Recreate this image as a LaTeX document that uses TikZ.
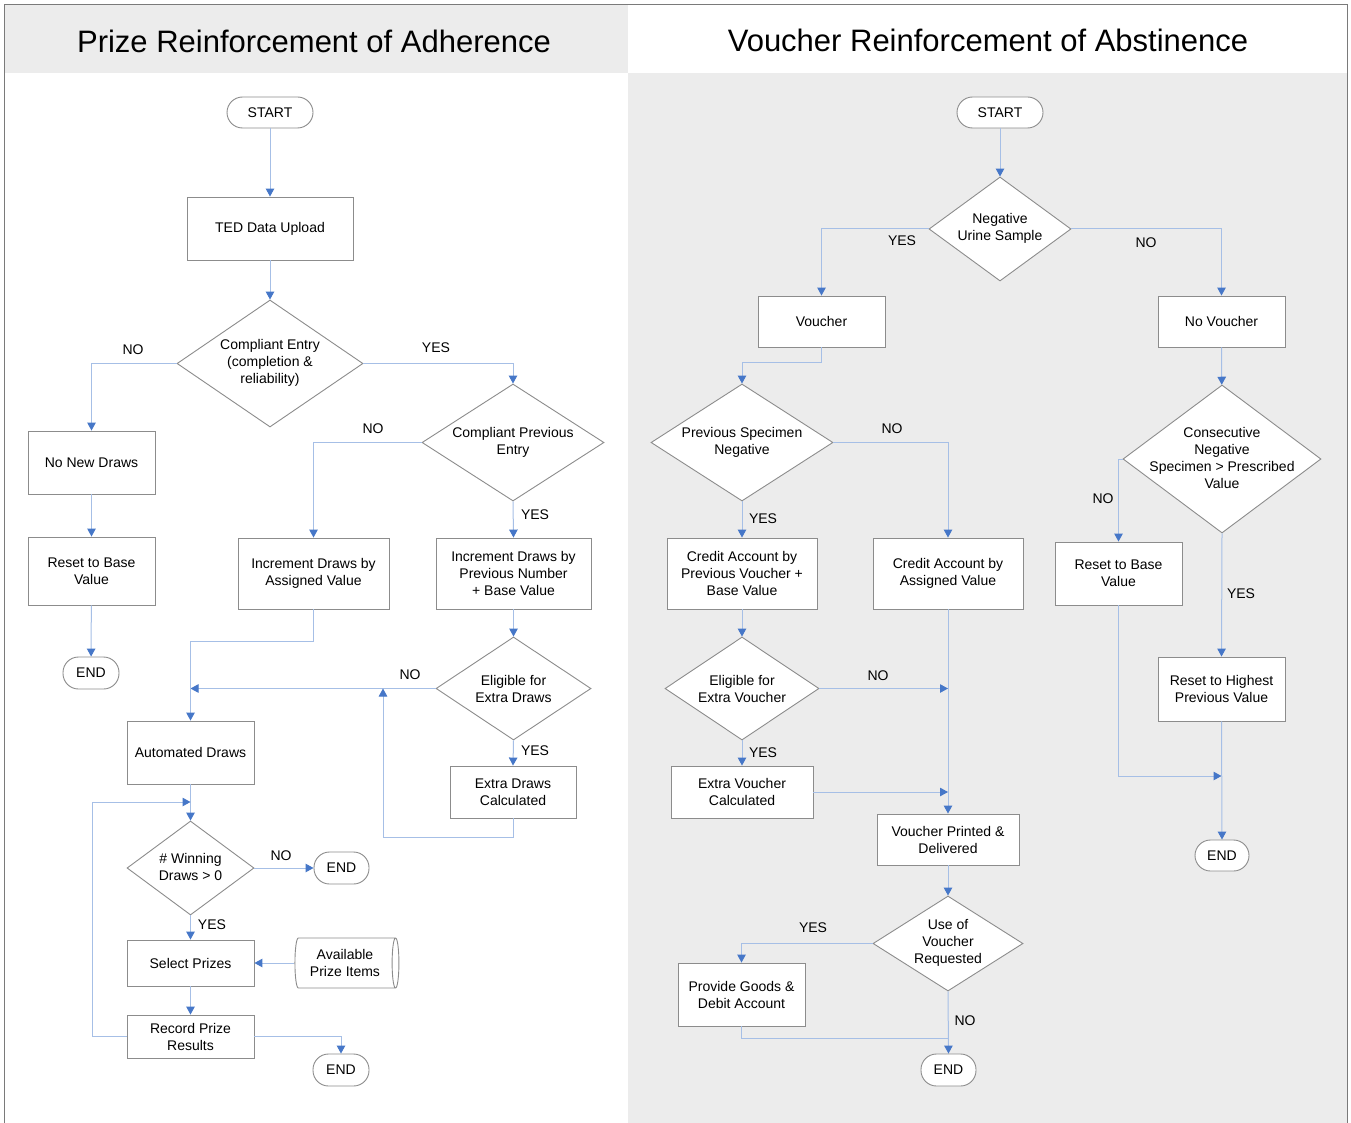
\documentclass[tikz,border=0pt]{standalone}
\usepackage{fontspec}
\setmainfont{Liberation Sans}
\usetikzlibrary{shapes.geometric,arrows.meta}
\definecolor{bggray}{HTML}{ECECEC}
\definecolor{framegray}{HTML}{7A7A7A}
\definecolor{nodegray}{HTML}{8C8C8C}
\definecolor{linkblue}{HTML}{A6BFE6}
\definecolor{tipblue}{HTML}{4677C8}
\tikzset{
  base/.style={draw=nodegray, line width=0.9pt, fill=white, font=\fontsize{14}{17}\selectfont, align=center, inner sep=0pt},
  box/.style={base, rectangle},
  pill/.style={base, rectangle, rounded corners=15.5pt},
  dia/.style={base, diamond},
  txt/.style={font=\fontsize{14}{17}\selectfont, align=center, inner sep=0pt},
  lab/.style={font=\fontsize{14}{17}\selectfont, inner sep=0pt},
  flow/.style={draw=linkblue, line width=1pt},
  arr/.style={flow, -{Triangle[width=8.5pt,length=8pt,color=tipblue]}},
  ttl/.style={font=\fontsize{31}{36}\selectfont, inner sep=0pt}
}
\begin{document}
\begin{tikzpicture}[x=1pt,y=-1pt]
\useasboundingbox (0,0) rectangle (1351,1123);
% backgrounds
\fill[white] (0,0) rectangle (1351,1123);
\fill[bggray] (4,5) rectangle (628,73);
\fill[bggray] (628,73) rectangle (1347,1123);
\draw[framegray, line width=1pt] (4,1123) -- (4,5) -- (1347,5) -- (1347,1123);
\node[ttl] (t1) at (314,41) {Prize Reinforcement of Adherence};
\node[ttl] (t2) at (988,40) {Voucher Reinforcement of Abstinence};

% ---------------- left panel ----------------
\node[pill, minimum width=86, minimum height=31] (ls) at (270,112.5) {START};
\node[box, minimum width=166, minimum height=63] (ted) at (270,228.5) {TED Data Upload};
\node[dia, minimum width=186, minimum height=127] (ce) at (270,363.5) {};
\node[txt] (cet) at (270,363) {Compliant Entry\\(completion \&\\reliability)};
\node[box, minimum width=127, minimum height=63] (nnd) at (91.5,462.5) {No New Draws};
\node[box, minimum width=127, minimum height=68] (rb1) at (91.5,571) {Reset to Base\\Value};
\node[pill, minimum width=56, minimum height=32] (le1) at (91,673) {END};
\node[dia, minimum width=182, minimum height=117] (cpe) at (513,442.5) {};
\node[txt] (cpet) at (513,442) {Compliant Previous\\Entry};
\node[box, minimum width=151, minimum height=71] (ida) at (313.5,573.5) {Increment Draws by\\Assigned Value};
\node[box, minimum width=155, minimum height=71] (idp) at (513.5,573.5) {Increment Draws by\\Previous Number\\+ Base Value};
\node[dia, minimum width=155, minimum height=103] (efd) at (513.5,688.5) {};
\node[txt] (efdt) at (513.5,688.5) {Eligible for\\Extra Draws};
\node[box, minimum width=126, minimum height=52] (edc) at (513,792) {Extra Draws\\Calculated};
\node[box, minimum width=127, minimum height=63] (ad) at (190.5,752.5) {Automated Draws};
\node[dia, minimum width=127, minimum height=94] (wd) at (190.5,868) {};
\node[txt] (wdt) at (190.5,867) {\# Winning\\Draws > 0};
\node[pill, minimum width=55, minimum height=32] (le2) at (341.5,868) {END};
\node[box, minimum width=127, minimum height=46] (sp) at (190.5,963) {Select Prizes};
\node[base, cylinder, minimum width=50, minimum height=104, aspect=0.25] (api) at (345,963) {Available\\Prize Items};
\node[box, minimum width=127, minimum height=43] (rpr) at (190.5,1036.5) {Record Prize\\Results};
\node[pill, minimum width=56, minimum height=32] (le3) at (341,1070) {END};

\coordinate (jA) at (190.5,688.5);
\coordinate (jB) at (383,688.5);
\coordinate (jC) at (190.5,802);

\draw[arr] (ls) -- (ted);
\draw[arr] (ted) -- (ce);
\draw[arr] (ce.west) -| (nnd.north);
\draw[arr] (ce.east) -| (cpe.north);
\draw[arr] (nnd) -- (rb1);
\draw[arr] (rb1) -- (le1);
\draw[arr] (cpe.west) -| (ida.north);
\draw[arr] (cpe.south) -- (idp.north);
\draw[arr] (idp) -- (efd);
\draw[arr] (efd.west) -- (jA);
\draw[arr] (efd.south) -- (edc.north);
\draw[arr] (edc.south) -- ++(0,19) -| (jB);
\draw[arr] (ida.south) -- ++(0,32) -| (ad.north);
\draw[arr] (ad) -- (wd);
\draw[arr] (rpr.west) -- ++(-34,0) |- (jC);
\draw[arr] (wd.east) -- (le2.west);
\draw[arr] (wd.south) -- (sp.north);
\draw[arr] (api.west) -- (sp.east);
\draw[arr] (sp) -- (rpr);
\draw[arr] (rpr.east) -| (le3.north);

\node[lab] at (133,350) {NO};
\node[lab] at (436,348) {YES};
\node[lab] at (373,429) {NO};
\node[lab] at (535,515) {YES};
\node[lab] at (410,675) {NO};
\node[lab] at (535,751) {YES};
\node[lab] at (281,856) {NO};
\node[lab] at (212,925) {YES};

% ---------------- right panel ----------------
\node[pill, minimum width=86, minimum height=31] (rs) at (1000,112.5) {START};
\node[dia, minimum width=142, minimum height=104] (nus) at (1000,229) {};
\node[txt] (nust) at (1000,228) {Negative\\Urine Sample};
\node[box, minimum width=127, minimum height=51] (vo) at (821.5,321.5) {Voucher};
\node[box, minimum width=127, minimum height=51] (nv) at (1221.5,321.5) {No Voucher};
\node[dia, minimum width=182, minimum height=117] (psn) at (742,442.5) {};
\node[txt] (psnt) at (742,442) {Previous Specimen\\Negative};
\node[box, minimum width=150, minimum height=71] (cpv) at (742,573.5) {Credit Account by\\Previous Voucher +\\Base Value};
\node[box, minimum width=150, minimum height=71] (caa) at (948,573.5) {Credit Account by\\Assigned Value};
\node[dia, minimum width=154, minimum height=103] (efv) at (742,688.5) {};
\node[txt] (efvt) at (742,688.5) {Eligible for\\Extra Voucher};
\node[box, minimum width=142, minimum height=52] (evc) at (742,792) {Extra Voucher\\Calculated};
\node[box, minimum width=142, minimum height=51] (vpd) at (948,839.5) {Voucher Printed \&\\Delivered};
\node[dia, minimum width=150, minimum height=95] (uvr) at (948,943.5) {};
\node[txt] (uvrt) at (948,943) {Use of\\Voucher\\Requested};
\node[box, minimum width=127, minimum height=63] (pgd) at (741.5,994.5) {Provide Goods \&\\Debit Account};
\node[pill, minimum width=55, minimum height=32] (re1) at (948.5,1070) {END};
\node[dia, minimum width=198, minimum height=148] (cns) at (1222,459) {};
\node[txt] (cnst) at (1222,457.5) {Consecutive\\Negative\\Specimen > Prescribed\\Value};
\node[box, minimum width=127, minimum height=63] (rb2) at (1118.5,573.5) {Reset to Base\\Value};
\node[box, minimum width=127, minimum height=64] (rhp) at (1221.5,689) {Reset to Highest\\Previous Value};
\node[pill, minimum width=54, minimum height=31] (re2) at (1222,855.5) {END};

\coordinate (jD) at (948,688.5);
\coordinate (jE) at (948,792);
\coordinate (jF) at (948,1038);
\coordinate (jG) at (1221.5,776);

\draw[arr] (rs) -- (nus);
\draw[arr] (nus.west) -| (vo.north);
\draw[arr] (nus.east) -| (nv.north);
\draw[arr] (vo.south) -- ++(0,15) -| (psn.north);
\draw[arr] (psn.east) -| (caa.north);
\draw[arr] (psn.south) -- (cpv.north);
\draw[arr] (cpv) -- (efv);
\draw[arr] (efv.east) -- (jD);
\draw[arr] (efv.south) -- (evc.north);
\draw[arr] (evc.east) -- (jE);
\draw[arr] (caa.south) -- (vpd.north);
\draw[arr] (vpd) -- (uvr);
\draw[arr] (uvr.west) -| (pgd.north);
\draw[arr] (uvr.south) -- (re1.north);
\draw[flow] (pgd.south) |- (jF);
\draw[arr] (nv) -- (cns);
\draw[arr] (cns.west) -| (rb2.north);
\draw[arr] (cns.south) -- (rhp.north);
\draw[arr] (rb2.south) |- (jG);
\draw[arr] (rhp.south) -- (re2.north);

\node[lab] at (902,241) {YES};
\node[lab] at (1146,243) {NO};
\node[lab] at (892,429) {NO};
\node[lab] at (763,519) {YES};
\node[lab] at (878,676) {NO};
\node[lab] at (763,753) {YES};
\node[lab] at (813,928) {YES};
\node[lab] at (965,1021) {NO};
\node[lab] at (1103,499) {NO};
\node[lab] at (1241,594) {YES};
\end{tikzpicture}
\end{document}
